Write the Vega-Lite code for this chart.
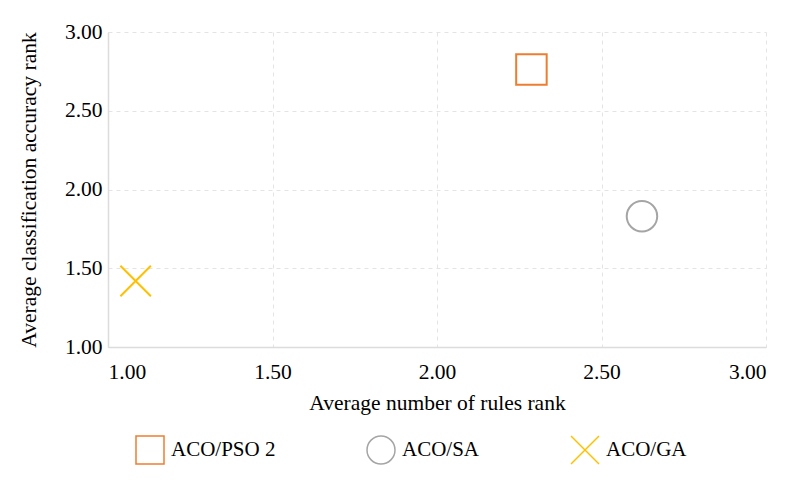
{
  "$schema": "https://vega.github.io/schema/vega-lite/v6.json",
  "width": 658,
  "height": 315,
  "autosize": {"type": "none"},
  "padding": {"left": 108, "top": 32, "right": 24, "bottom": 134},
  "background": "white",
  "config": {
    "font": "Liberation Serif",
    "view": {"stroke": null},
    "axis": {
      "grid": true,
      "gridDash": [4, 4],
      "gridColor": "#e4e4e4",
      "gridWidth": 1,
      "domainColor": "#dcdcdc",
      "domainWidth": 1.5,
      "ticks": false,
      "labelFont": "Liberation Serif",
      "labelFontSize": 21.5,
      "labelColor": "#000000",
      "titleFont": "Liberation Serif",
      "titleFontSize": 21.5,
      "titleFontWeight": "normal",
      "titleColor": "#000000"
    },
    "legend": {
      "title": null,
      "orient": "none",
      "direction": "horizontal",
      "legendX": 27,
      "legendY": 403,
      "padding": 0,
      "columnPadding": 88,
      "labelOffset": 6,
      "symbolSize": 784,
      "symbolStrokeWidth": 1.5,
      "symbolFillColor": "transparent",
      "labelFont": "Liberation Serif",
      "labelFontSize": 21,
      "labelColor": "#000000"
    }
  },
  "data": {
    "values": [
      {"method": "ACO/PSO 2", "rules": 2.287, "accuracy": 2.762},
      {"method": "ACO/SA", "rules": 2.623, "accuracy": 1.83},
      {"method": "ACO/GA", "rules": 1.084, "accuracy": 1.419}
    ]
  },
  "mark": {"type": "point", "filled": false, "strokeWidth": 2, "opacity": 1},
  "encoding": {
    "x": {
      "field": "rules",
      "type": "quantitative",
      "scale": {"domain": [1, 3], "nice": false, "zero": false},
      "axis": {
        "title": "Average number of rules rank",
        "values": [1, 1.5, 2, 2.5, 3],
        "format": ".2f",
        "labelPadding": 14,
        "titlePadding": 10
      }
    },
    "y": {
      "field": "accuracy",
      "type": "quantitative",
      "scale": {"domain": [1, 3], "nice": false, "zero": false},
      "axis": {
        "title": "Average classification accuracy rank",
        "values": [1, 1.5, 2, 2.5, 3],
        "format": ".2f",
        "labelPadding": 6,
        "titlePadding": 24
      }
    },
    "color": {
      "field": "method",
      "type": "nominal",
      "scale": {
        "domain": ["ACO/PSO 2", "ACO/SA", "ACO/GA"],
        "range": ["#ED7D31", "#A5A5A5", "#FFC000"]
      },
      "legend": {
        "title": null,
        "encode": {
          "symbols": {
            "shape": {"value": {"expr": "datum.value === 'ACO/PSO 2' ? 'M-1,0L-0.42,0M0.42,0L1,0M0,-0.42L0.42,0L0,0.42L-0.42,0Z' : datum.value === 'ACO/SA' ? 'M-1,0L-0.38,0M0.38,0L1,0M-0.38,0A0.38,0.38,0,1,0,0.38,0A0.38,0.38,0,1,0,-0.38,0' : 'M-1,0L1,0M-0.4,-0.4L0.4,0.4M-0.4,0.4L0.4,-0.4'"}}
          }
        }
      }
    },
    "shape": {
      "field": "method",
      "type": "nominal",
      "scale": {
        "domain": ["ACO/PSO 2", "ACO/SA", "ACO/GA"],
        "range": ["square", "circle", "M-1,-1L1,1M-1,1L1,-1"]
      },
      "legend": {
        "title": null,
        "encode": {
          "symbols": {
            "shape": {"value": {"expr": "datum.value === 'ACO/PSO 2' ? 'M-1,0L-0.42,0M0.42,0L1,0M0,-0.42L0.42,0L0,0.42L-0.42,0Z' : datum.value === 'ACO/SA' ? 'M-1,0L-0.38,0M0.38,0L1,0M-0.38,0A0.38,0.38,0,1,0,0.38,0A0.38,0.38,0,1,0,-0.38,0' : 'M-1,0L1,0M-0.4,-0.4L0.4,0.4M-0.4,0.4L0.4,-0.4'"}}
          }
        }
      }
    },
    "size": {"value": 930}
  }
}
